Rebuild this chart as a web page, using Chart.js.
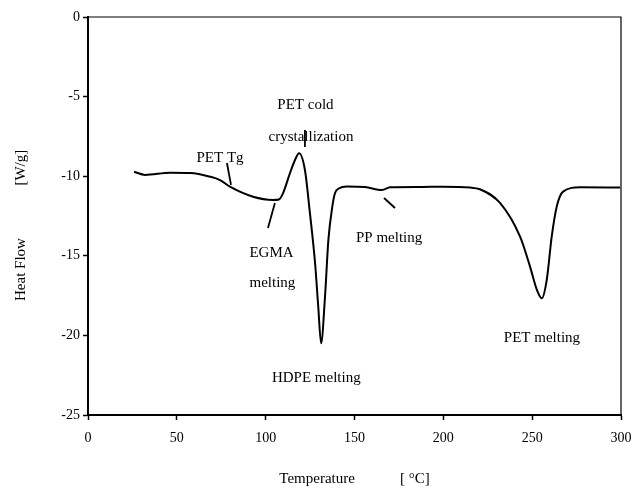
<!DOCTYPE html>
<html><head><meta charset="utf-8">
<script src="https://cdn.jsdelivr.net/npm/chart.js@4.4.1/dist/chart.umd.min.js"></script>
<style>html,body{margin:0;padding:0;background:#fff}#wrap{width:634px;height:492px}</style>
</head><body><div id="wrap"><canvas id="c" width="634" height="492"></canvas></div>
<script>
// Temperature (°C) and heat flow (W/g)
const temperature = [25.9, 32.1, 46.2, 57.4, 68.7, 74.3, 79.9, 92.9, 104.1, 107.5, 109.8, 113.7, 116.5, 118.8, 122.1, 124.9, 127.8, 129.6, 131.2, 133.4, 135.3, 137.5, 139.0, 141.4, 145.6, 155.9, 165.5, 170.0, 186.9, 199.8, 215.0, 220.6, 231.9, 243.2, 248.8, 252.7, 255.4, 258.2, 261.0, 263.8, 267.4, 276.9, 299.5];
const heatFlow    = [-9.72, -9.92, -9.78, -9.80, -10.03, -10.24, -10.66, -11.29, -11.49, -11.46, -11.06, -9.80, -8.98, -8.56, -9.61, -12.31, -15.45, -18.20, -20.50, -17.57, -14.00, -11.92, -11.07, -10.76, -10.64, -10.68, -10.87, -10.70, -10.68, -10.66, -10.71, -10.82, -11.68, -13.80, -15.68, -17.15, -17.67, -16.52, -13.80, -11.92, -10.97, -10.70, -10.71];
const xTicks = [0, 50, 100, 150, 200, 250, 300];
const yTicks = [0, -5, -10, -15, -20, -25];

// Peak labels (text anchored at data coordinates)
const labelTexts = ["PET cold", "crystallization", "PET Tg", "EGMA", "melting", "PP melting", "HDPE melting", "PET melting"];
const labelT     = [122.4, 125.5, 74.3, 103.3, 103.8, 169.5, 128.5, 255.5];
const labelHF    = [-5.53, -7.52, -8.85, -14.82, -16.72, -13.88, -22.68, -20.16];
// Leader lines (start/end in data coordinates)
const leaderT1  = [78.2, 105.2, 122.1, 166.6];
const leaderHF1 = [-9.17, -11.68, -7.10, -11.37];
const leaderT2  = [80.5, 101.3, 122.1, 172.8];
const leaderHF2 = [-10.55, -13.25, -8.17, -12.00];

const points = temperature.map((t, i) => ({x: t, y: heatFlow[i]}));
const FONT = "'Liberation Serif', 'Times New Roman', serif";

const decor = {
  id: 'decor',
  afterDatasetsDraw(chart) {
    const {ctx, chartArea: a, scales: {x, y}} = chart;
    ctx.save();
    ctx.strokeStyle = '#000';
    ctx.lineWidth = 1.2;
    ctx.beginPath();
    ctx.moveTo(a.left, a.top); ctx.lineTo(a.right, a.top); ctx.lineTo(a.right, a.bottom);
    ctx.stroke();
    ctx.lineWidth = 1.8;
    for (let i = 0; i < leaderT1.length; i++) {
      ctx.beginPath();
      ctx.moveTo(x.getPixelForValue(leaderT1[i]), y.getPixelForValue(leaderHF1[i]));
      ctx.lineTo(x.getPixelForValue(leaderT2[i]), y.getPixelForValue(leaderHF2[i]));
      ctx.stroke();
    }
    ctx.fillStyle = '#000';
    ctx.font = "15px " + FONT;
    ctx.textAlign = 'center';
    ctx.textBaseline = 'middle';
    for (let i = 0; i < labelTexts.length; i++) {
      ctx.fillText(labelTexts[i], x.getPixelForValue(labelT[i]), y.getPixelForValue(labelHF[i]));
    }
    ctx.restore();
  }
};

new Chart(document.getElementById('c'), {
  type: 'line',
  data: { datasets: [{
    data: points,
    borderColor: '#000',
    borderWidth: 2,
    pointRadius: 0,
    fill: false,
    cubicInterpolationMode: 'monotone'
  }]},
  options: {
    responsive: false,
    animation: false,
    devicePixelRatio: 1,
    layout: { padding: { top: 17, right: 13, left: 0, bottom: 0 } },
    plugins: { legend: { display: false }, tooltip: { enabled: false } },
    scales: {
      x: {
        type: 'linear', min: 0, max: 300,
        afterFit(s) { s.height = 77; s.paddingLeft = 0; s.paddingRight = 0; },
        afterBuildTicks(s) { s.ticks = xTicks.map(v => ({value: v})); },
        grid: { drawOnChartArea: false, drawTicks: true, tickLength: 5, color: '#000', tickWidth: 1.5 },
        border: { display: true, color: '#000', width: 2 },
        ticks: { color: '#000', font: { family: FONT, size: 14 }, padding: 10, maxRotation: 0 },
        title: { display: true, text: "Temperature            [ \u00B0C]", color: '#000', font: { family: FONT, size: 15 }, padding: { top: 22 } }
      },
      y: {
        type: 'linear', min: -25, max: 0,
        afterFit(s) { s.width = 88; s.paddingTop = 0; s.paddingBottom = 0; },
        afterBuildTicks(s) { s.ticks = yTicks.map(v => ({value: v})); },
        grid: { drawOnChartArea: false, drawTicks: true, tickLength: 5, color: '#000', tickWidth: 1.5 },
        border: { display: true, color: '#000', width: 2 },
        ticks: { color: '#000', font: { family: FONT, size: 14 }, padding: 3 },
        title: { display: true, text: "Heat Flow              [W/g]\u2003 ", color: '#000', font: { family: FONT, size: 15 }, padding: { top: 12, bottom: 0 } }
      }
    }
  },
  plugins: [decor]
});
</script>
</body></html>
